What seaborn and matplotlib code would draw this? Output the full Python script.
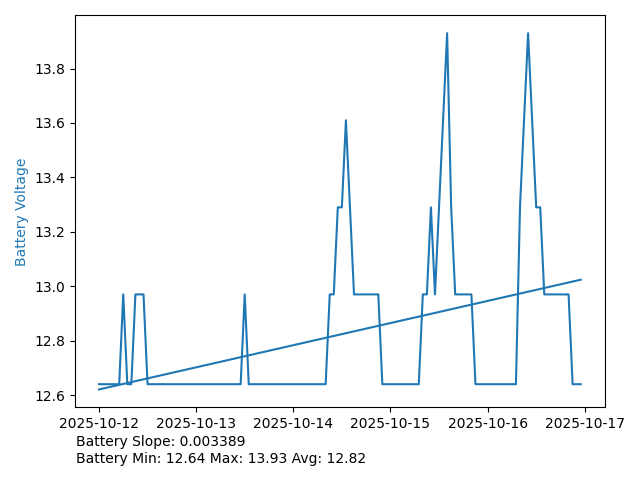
import numpy as np
import pandas as pd
import matplotlib
matplotlib.use("Agg")
import matplotlib.pyplot as plt
import seaborn as sns

# ── Data (hourly readings, 2025-10-12 00:00 .. 2025-10-16 23:00) ─────
start = "2025-10-12 00:00"
n_hours = 120
battery_v = [
    # 10-12
    12.64, 12.64, 12.64, 12.64, 12.64, 12.64, 12.97, 12.64, 12.64, 12.97,
    12.97, 12.97, 12.64, 12.64, 12.64, 12.64, 12.64, 12.64, 12.64, 12.64,
    12.64, 12.64, 12.64, 12.64,
    # 10-13
    12.64, 12.64, 12.64, 12.64, 12.64, 12.64, 12.64, 12.64, 12.64, 12.64,
    12.64, 12.64, 12.97, 12.64, 12.64, 12.64, 12.64, 12.64, 12.64, 12.64,
    12.64, 12.64, 12.64, 12.64,
    # 10-14
    12.64, 12.64, 12.64, 12.64, 12.64, 12.64, 12.64, 12.64, 12.64, 12.97,
    12.97, 13.29, 13.29, 13.61, 13.29, 12.97, 12.97, 12.97, 12.97, 12.97,
    12.97, 12.97, 12.64, 12.64,
    # 10-15
    12.64, 12.64, 12.64, 12.64, 12.64, 12.64, 12.64, 12.64, 12.97, 12.97,
    13.29, 12.97, 13.29, 13.61, 13.93, 13.29, 12.97, 12.97, 12.97, 12.97,
    12.97, 12.64, 12.64, 12.64,
    # 10-16
    12.64, 12.64, 12.64, 12.64, 12.64, 12.64, 12.64, 12.64, 13.29, 13.61,
    13.93, 13.61, 13.29, 13.29, 12.97, 12.97, 12.97, 12.97, 12.97, 12.97,
    12.97, 12.64, 12.64, 12.64,
]

times = pd.date_range(start, periods=n_hours, freq="h")
df = pd.DataFrame({"time": times, "voltage": battery_v})

# ── Linear trend (slope per hour) ────────────────────────────────────
hours = np.arange(len(df))
slope, intercept = np.polyfit(hours, df["voltage"], 1)
df["trend"] = intercept + slope * hours

vmin, vmax, vavg = df["voltage"].min(), df["voltage"].max(), df["voltage"].mean()

# ── Plot ─────────────────────────────────────────────────────────────
fig, ax = plt.subplots(figsize=(6.4, 4.8), dpi=100)
sns.lineplot(data=df, x="time", y="voltage", color="tab:blue", ax=ax)
sns.lineplot(data=df, x="time", y="trend", color="tab:blue", ax=ax)

ax.set_xlabel("")
ax.set_ylabel("Battery Voltage", color="tab:blue")

fig.subplots_adjust(left=0.117, right=0.945, top=0.968, bottom=0.1515)
fig.text(0.118, 0.03,
         f"Battery Slope: {slope:.6f}\n"
         f"Battery Min: {vmin:.2f} Max: {vmax:.2f} Avg: {vavg:.2f}",
         ha="left", va="bottom", fontsize=10)

plt.savefig("out.png", dpi=100)
print("slope", slope, "intercept", intercept)
